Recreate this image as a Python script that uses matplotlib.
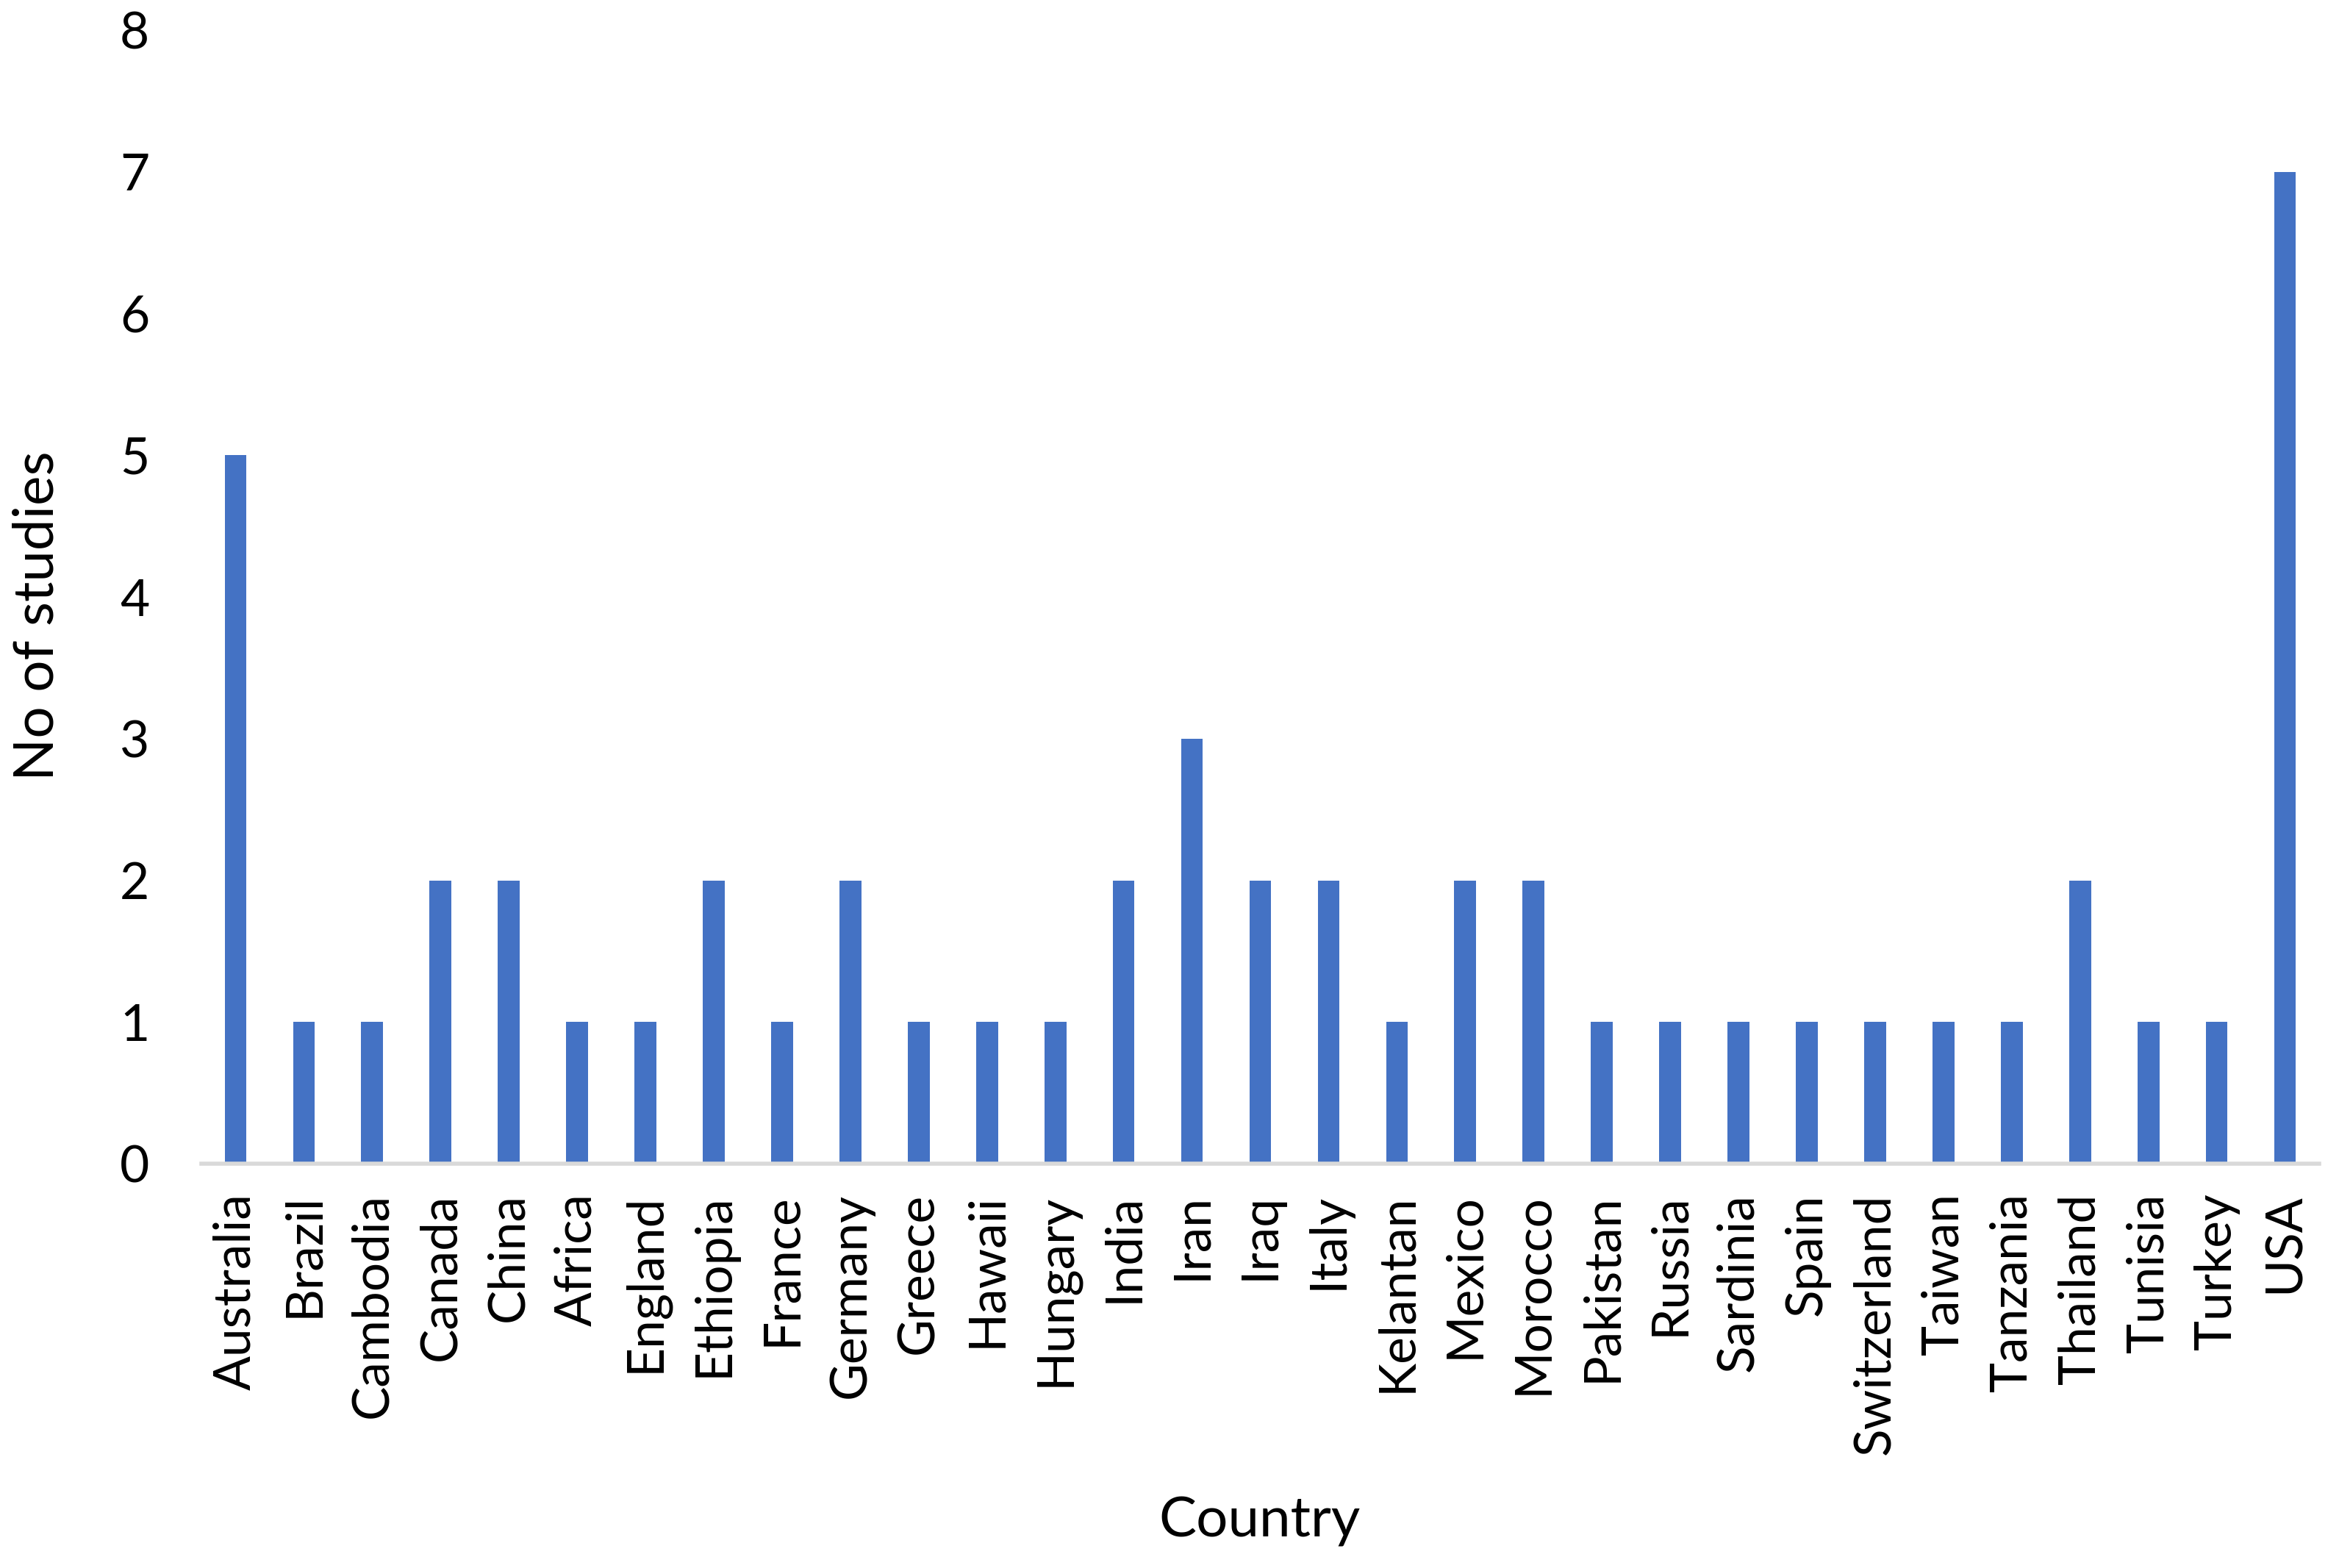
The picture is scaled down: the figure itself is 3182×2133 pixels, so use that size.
import matplotlib
matplotlib.use("Agg")
import matplotlib.pyplot as plt

countries = ["Australia", "Brazil", "Cambodia", "Canada", "China", "Africa", "England",
             "Ethiopia", "France", "Germany", "Greece", "Hawaii", "Hungary", "India",
             "Iran", "Iraq", "Italy", "Kelantan", "Mexico", "Morocco", "Pakistan",
             "Russia", "Sardinia", "Spain", "Switzerland", "Taiwan", "Tanzania",
             "Thailand", "Tunisia", "Turkey", "USA"]
studies = [5, 1, 1, 2, 2, 1, 1, 2, 1, 2, 1, 1, 1, 2, 3, 2, 2, 1, 2, 2, 1, 1, 1, 1, 1,
           1, 1, 2, 1, 1, 7]
yticks = [0, 1, 2, 3, 4, 5, 6, 7, 8]

plt.rcParams['font.family'] = ['Lato', 'DejaVu Sans']

W, H = 3182, 2133
fig = plt.figure(figsize=(W / 100, H / 100), dpi=100)
left, right, bottom, top = 274, 3155, 1583, 41
ax = fig.add_axes([left / W, 1 - bottom / H, (right - left) / W, (bottom - top) / H])

x = list(range(len(countries)))
ax.bar(x, studies, width=0.32, color="#4472C4", zorder=2)

ax.set_xlim(-0.5, len(countries) - 0.5)
ax.set_ylim(0, 8)
ax.set_yticks(yticks)
ax.set_yticklabels([str(v) for v in yticks], fontsize=50)
ax.set_xticks(x)
ax.set_xticklabels(countries, rotation=90, fontsize=50)
ax.tick_params(axis='y', length=0, pad=51)
ax.tick_params(axis='x', length=0, pad=29)

for s in ['top', 'right', 'left']:
    ax.spines[s].set_visible(False)
ax.spines['bottom'].set_color("#D9D9D9")
ax.spines['bottom'].set_linewidth(4)
ax.spines['bottom'].set_zorder(3)

fig.text(1713 / W, 1 - 2070 / H, "Country", fontsize=55, ha='center', va='center')
fig.text(51 / W, 1 - 838 / H, "No of studies", fontsize=55, ha='center', va='center',
         rotation=90)

fig.savefig("out.png", dpi=100, facecolor="white")
